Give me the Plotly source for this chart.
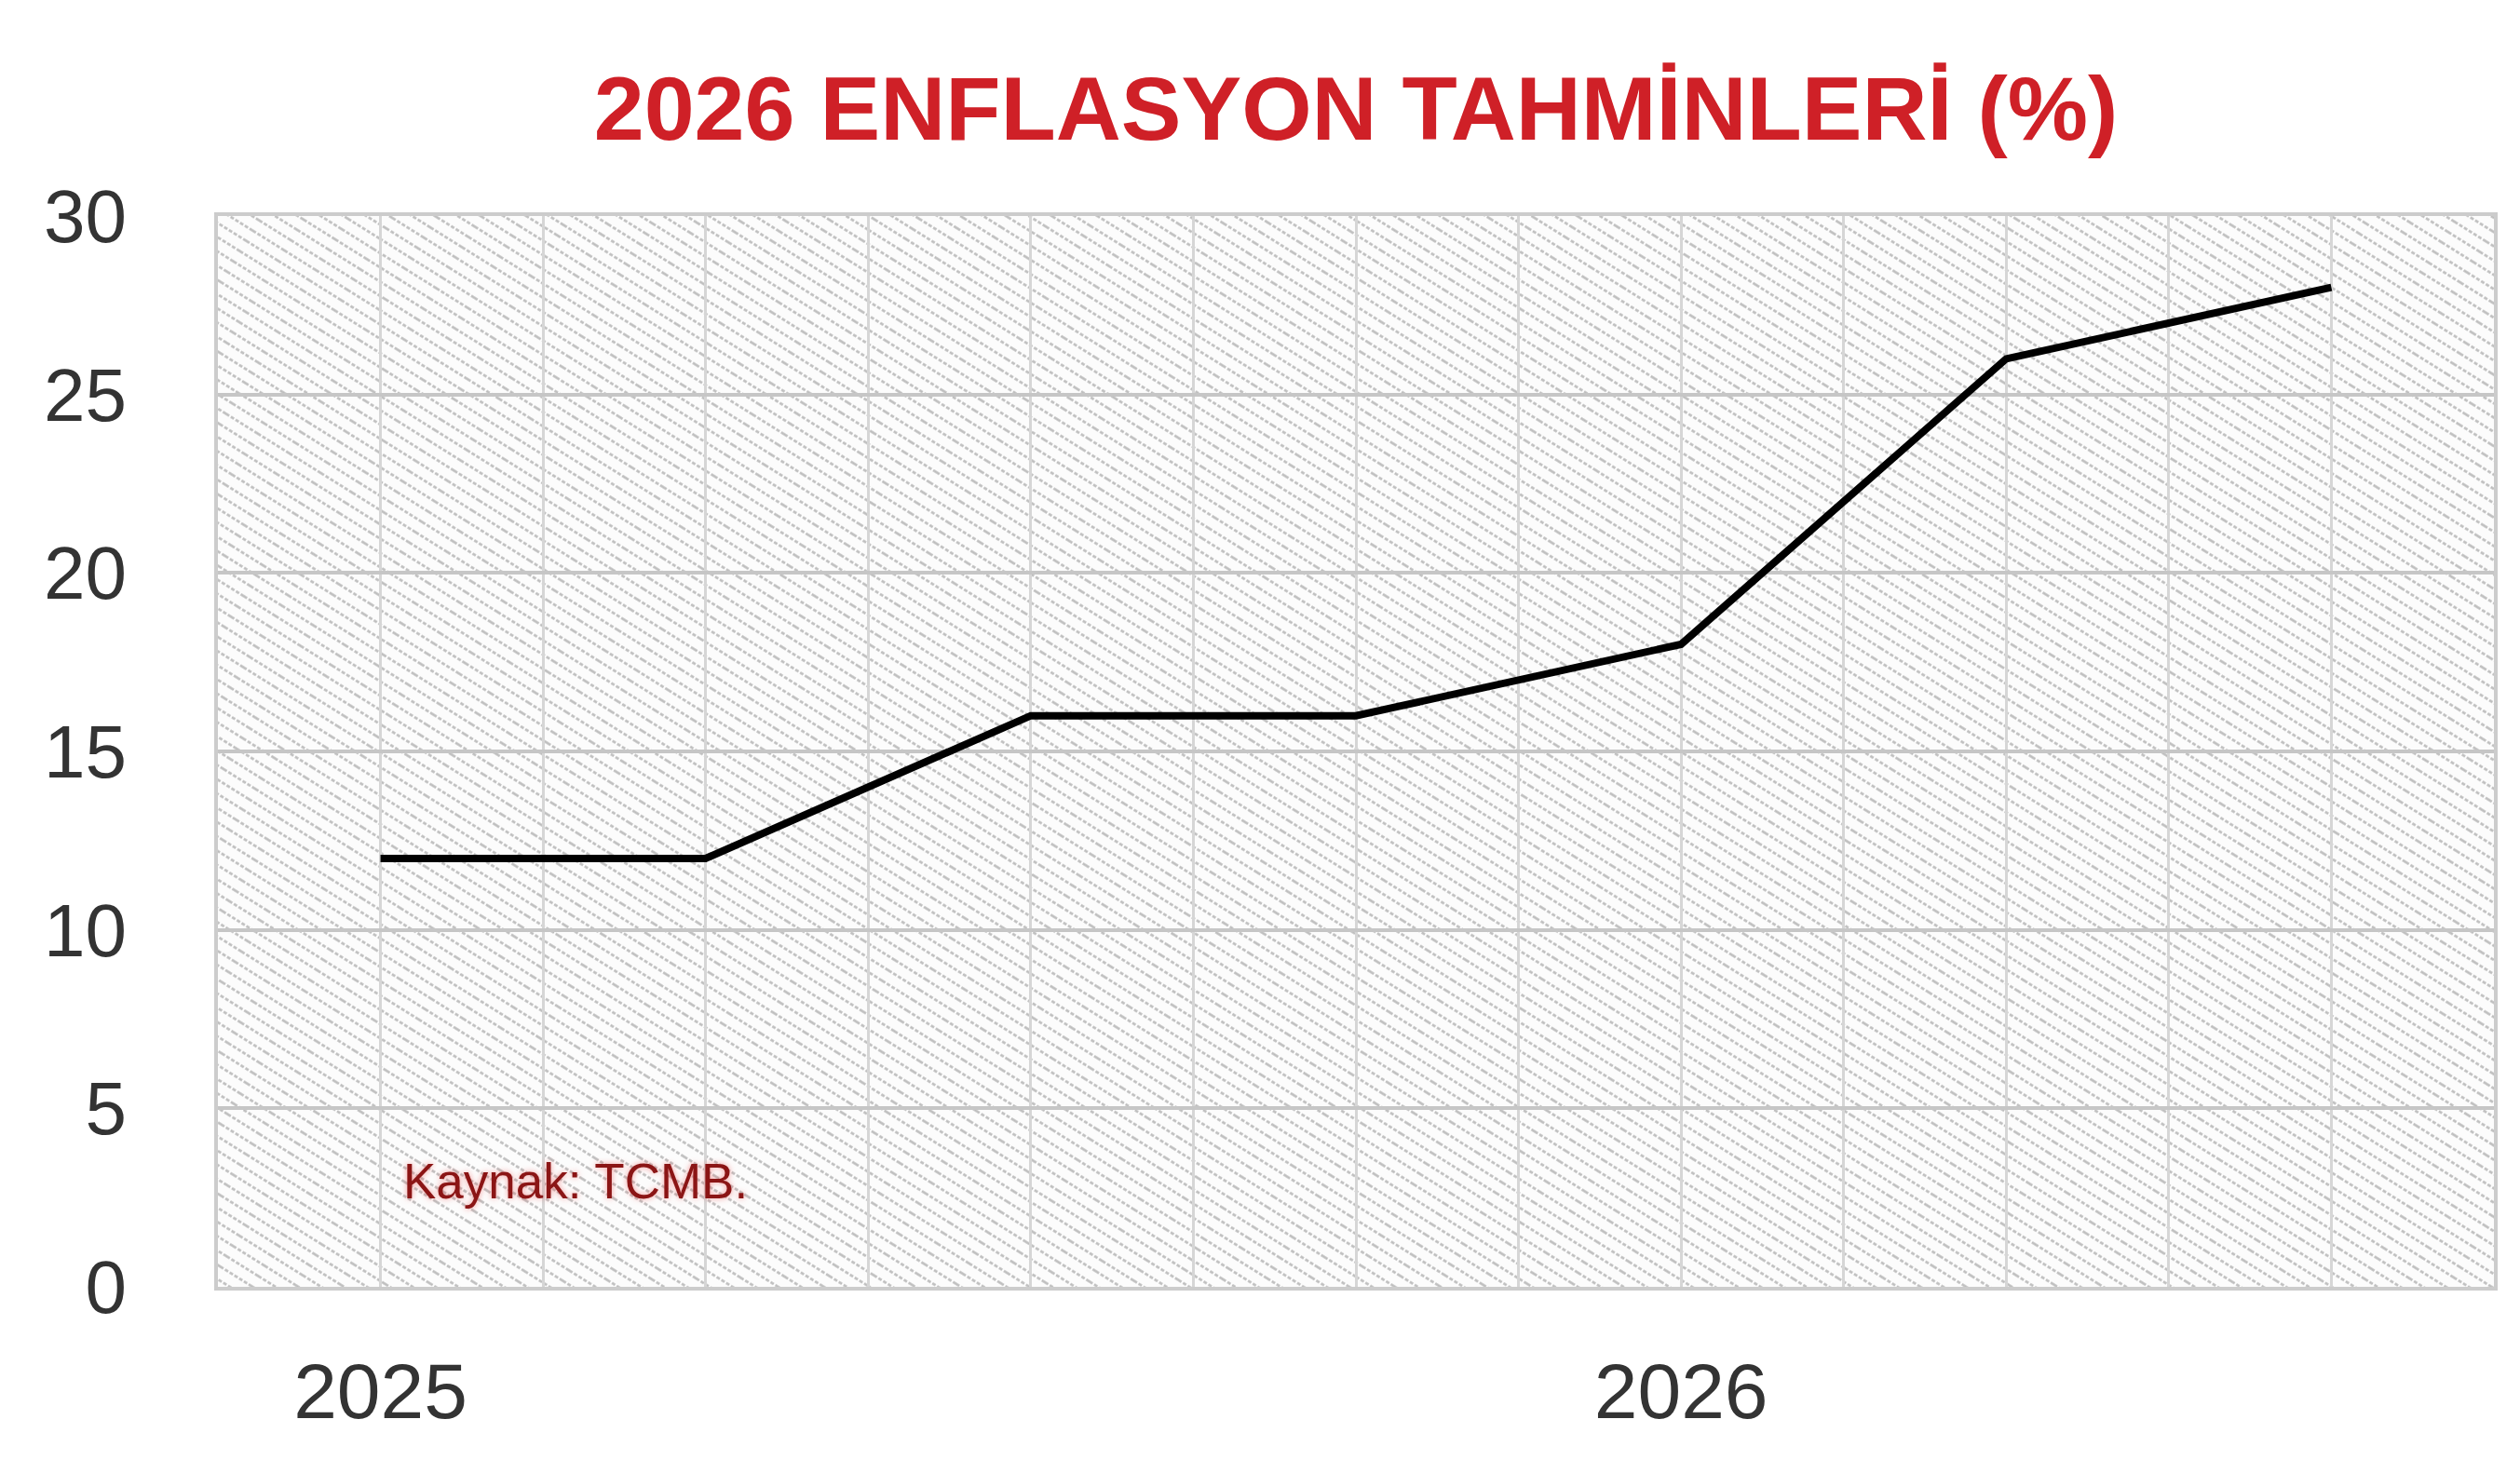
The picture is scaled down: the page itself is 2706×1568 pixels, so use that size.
import base64
import plotly.graph_objects as go

# ---- data ----
x_pos = [0, 2, 4, 6, 8, 10, 12]
inflation = [12, 12, 16, 16, 18, 26, 28]
x_grid = list(range(-1, 14))
x_labels = ["" for _ in x_grid]
x_labels[x_grid.index(0)] = "2025"
x_labels[x_grid.index(8)] = "2026"
y_ticks = [0, 5, 10, 15, 20, 25, 30]
x_range = [-1, 13]
y_range = [0, 30]
title_text = "2026 ENFLASYON TAHMİNLERİ (%)"
source_text = "Kaynak: TCMB."

FONT = "Liberation Sans, Arial, sans-serif"
W, H = 2706, 1568
ML, MR, MT, MB = 226, 36, 224, 194
PW, PH = W - ML - MR, H - MT - MB

# hatched texture for the plot background (SVG pattern)
svg = (
    f'<svg xmlns="http://www.w3.org/2000/svg" width="{PW}" height="{PH}" '
    f'viewBox="0 0 {PW} {PH}" preserveAspectRatio="none">'
    '<defs><pattern id="p" width="40" height="13" patternUnits="userSpaceOnUse" '
    'patternTransform="rotate(32)">'
    '<line x1="0" y1="6.5" x2="40" y2="6.5" stroke="#bcbcbc" stroke-width="2.3" '
    'stroke-dasharray="4 2"/></pattern></defs>'
    f'<rect width="{PW}" height="{PH}" fill="#fcfcfc"/>'
    f'<rect width="{PW}" height="{PH}" fill="url(#p)"/></svg>'
)
svg_uri = "data:image/svg+xml;base64," + base64.b64encode(svg.encode()).decode()

fig = go.Figure()

fig.add_trace(go.Scatter(
    x=x_pos, y=inflation, mode="lines",
    line=dict(color="#000000", width=8),
    showlegend=False,
))

fig.add_layout_image(dict(
    source=svg_uri, xref="x", yref="y",
    x=x_range[0], y=y_range[1],
    sizex=x_range[1] - x_range[0], sizey=y_range[1] - y_range[0],
    sizing="stretch", layer="below", xanchor="left", yanchor="top",
))

fig.add_annotation(
    x=0.13, y=2.95, xref="x", yref="y", text=source_text, showarrow=False,
    xanchor="left", yanchor="middle",
    font=dict(family=FONT, size=53, color="#8b1515",
              shadow="0px 0px 6px rgba(235,70,70,0.55)"),
)

fig.update_layout(
    width=W, height=H,
    paper_bgcolor="#ffffff", plot_bgcolor="#ffffff",
    margin=dict(l=ML, r=MR, t=MT, b=MB, autoexpand=False),
    title=dict(text=title_text, x=0.5, xref="paper", y=1 - 108 / H,
               yref="container", xanchor="center", yanchor="middle",
               font=dict(family=FONT, size=97, color="#cf2027", weight="bold")),
    xaxis=dict(range=x_range, tickmode="array", tickvals=x_grid, ticktext=x_labels,
               showgrid=True, gridcolor="#d6d6d6", gridwidth=3, zeroline=False,
               showline=True, linecolor="#cccccc", linewidth=4, mirror=True,
               ticks="", ticklabelstandoff=36, automargin=False,
               tickfont=dict(family=FONT, size=84, color="#333333")),
    yaxis=dict(range=y_range, tickmode="array", tickvals=y_ticks,
               showgrid=True, gridcolor="#c6c6c6", gridwidth=4, zeroline=False,
               showline=True, linecolor="#cccccc", linewidth=4, mirror=True,
               ticks="", ticklabelstandoff=78, automargin=False,
               tickfont=dict(family=FONT, size=80, color="#333333")),
)

fig.write_html("out.html")
